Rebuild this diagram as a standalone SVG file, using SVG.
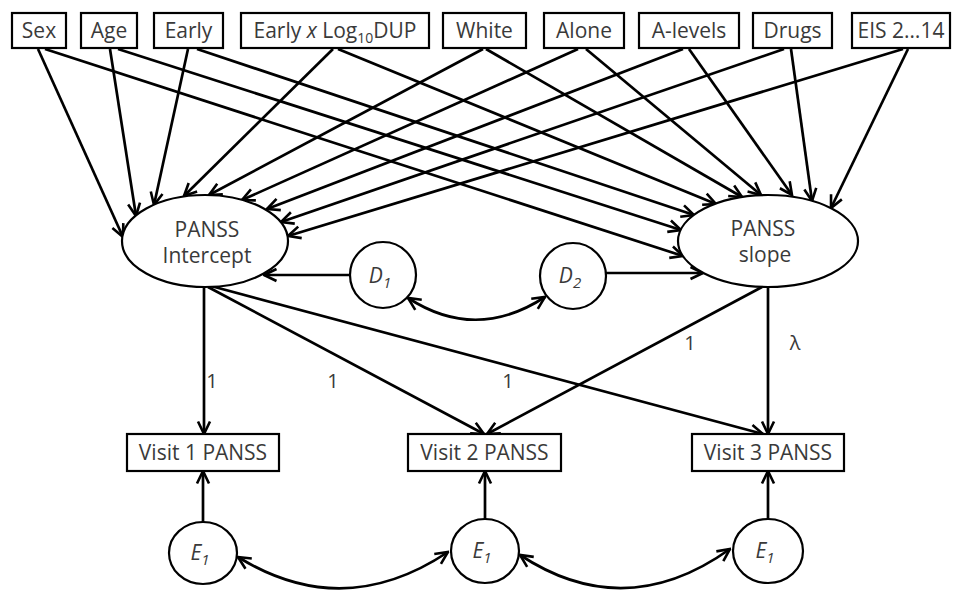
<svg xmlns="http://www.w3.org/2000/svg" width="956" height="590" viewBox="0 0 956 590">
<style>
  .box{fill:#fff;stroke:#000;stroke-width:2.2}
  .shape{fill:#fff;stroke:#000;stroke-width:2.2}
  .t{font-family:"Open Sans","Liberation Sans",sans-serif;font-size:21px;fill:#3a3a3a;text-anchor:middle}
  .it{font-style:italic}
  .c{fill:none;stroke:#000;stroke-width:2.7}
</style>
<defs>
  <marker id="ah" viewBox="0 0 16 16" refX="14.5" refY="8" markerWidth="16" markerHeight="16" markerUnits="userSpaceOnUse" orient="auto-start-reverse">
    <path d="M2,2 L14.5,8 L2,14" fill="none" stroke="#000" stroke-width="2.6"/>
  </marker>
</defs>
<rect width="956" height="590" fill="#fff"/>

<g id="connectors" class="c" marker-end="url(#ah)">
  <!-- to intercept -->
  <path d="M38,49 L123,237"/>
  <path d="M110,49 L136,216"/>
  <path d="M188,49 L154,205"/>
  <path d="M333,49 L184,196"/>
  <path d="M483,49 L209,195"/>
  <path d="M578,49 L242,200"/>
  <path d="M683,49 L267,209"/>
  <path d="M784,49 L281,222"/>
  <path d="M903,49 L288,236"/>
  <!-- to slope -->
  <path d="M45,49 L683,256"/>
  <path d="M118,49 L681,230"/>
  <path d="M197,49 L694,215"/>
  <path d="M338,49 L716,204"/>
  <path d="M486,49 L742,197"/>
  <path d="M586,49 L761,195"/>
  <path d="M689,49 L792,195"/>
  <path d="M791,49 L812,201"/>
  <path d="M908,49 L831,208"/>
  <!-- disturbances -->
  <path d="M350,275 L264,275"/>
  <path d="M606,273 L703,273"/>
  <path d="M408,298 Q476,342 545,297" marker-start="url(#ah)"/>
  <!-- loadings -->
  <path d="M204,287 L204,434"/>
  <path d="M208,287 L484,434"/>
  <path d="M211,286 L763,434"/>
  <path d="M762,287 L487,434"/>
  <path d="M768,287 L768,434"/>
  <!-- errors -->
  <path d="M203,522 L203,471"/>
  <path d="M485,519 L485,471"/>
  <path d="M768,519 L768,471"/>
  <path d="M238,557 Q343,622 448,552" marker-start="url(#ah)"/>
  <path d="M520,555 Q625,624 730,549" marker-start="url(#ah)"/>
</g>

<g id="labels">
  <text class="t" x="212" y="388" style="font-size:20px">1</text>
  <text class="t" x="333" y="388" style="font-size:20px">1</text>
  <text class="t" x="508" y="388" style="font-size:20px">1</text>
  <text class="t" x="690" y="350" style="font-size:20px">1</text>
  <text class="t" x="795" y="350" style="font-size:20px">λ</text>
</g>

<g id="sex"><rect class="box" x="12" y="13" width="54" height="35"/><text class="t" x="39" y="38">Sex</text></g>
<g id="age"><rect class="box" x="81" y="13" width="56" height="35"/><text class="t" x="109" y="38">Age</text></g>
<g id="early"><rect class="box" x="154" y="13" width="69" height="35"/><text class="t" x="188.5" y="38">Early</text></g>
<g id="earlyxlog"><rect class="box" x="241" y="13" width="188" height="35"/><text class="t" x="335" y="38">Early <tspan class="it">x</tspan> Log<tspan dy="5" style="font-size:14px">10</tspan><tspan dy="-5">DUP</tspan></text></g>
<g id="white"><rect class="box" x="443" y="13" width="83" height="35"/><text class="t" x="484.5" y="38">White</text></g>
<g id="alone"><rect class="box" x="544" y="13" width="80" height="35"/><text class="t" x="584" y="38">Alone</text></g>
<g id="alevels"><rect class="box" x="639" y="13" width="100" height="35"/><text class="t" x="689" y="38">A-levels</text></g>
<g id="drugs"><rect class="box" x="753" y="13" width="79" height="35"/><text class="t" x="792.5" y="38">Drugs</text></g>
<g id="eis"><rect class="box" x="852" y="13" width="98" height="35"/><text class="t" x="901" y="38">EIS 2…14</text></g>

<g id="intercept"><ellipse class="shape" cx="205" cy="241" rx="83" ry="46"/><text class="t" x="207" y="237">PANSS</text><text class="t" x="207" y="263">Intercept</text></g>
<g id="slope"><ellipse class="shape" cx="768" cy="241" rx="90" ry="46"/><text class="t" x="763" y="236">PANSS</text><text class="t" x="765" y="262">slope</text></g>

<g id="d1"><circle class="shape" cx="383" cy="275" r="33"/><text class="t it" x="380" y="283">D<tspan dy="5" style="font-size:15px">1</tspan></text></g>
<g id="d2"><circle class="shape" cx="573" cy="276" r="33"/><text class="t it" x="570" y="283">D<tspan dy="5" style="font-size:15px">2</tspan></text></g>

<g id="visit1"><rect class="box" x="127" y="434" width="152" height="37"/><text class="t" x="203" y="460">Visit 1 PANSS</text></g>
<g id="visit2"><rect class="box" x="408" y="434" width="153" height="37"/><text class="t" x="484.5" y="460">Visit 2 PANSS</text></g>
<g id="visit3"><rect class="box" x="692" y="434" width="152" height="37"/><text class="t" x="768" y="460">Visit 3 PANSS</text></g>

<g id="e1a"><ellipse class="shape" cx="203" cy="553" rx="34" ry="31"/><text class="t it" x="200" y="560">E<tspan dy="5" style="font-size:15px">1</tspan></text></g>
<g id="e1b"><ellipse class="shape" cx="485" cy="551" rx="34" ry="32"/><text class="t it" x="482" y="558">E<tspan dy="5" style="font-size:15px">1</tspan></text></g>
<g id="e1c"><ellipse class="shape" cx="768" cy="551" rx="35" ry="32"/><text class="t it" x="765" y="558">E<tspan dy="5" style="font-size:15px">1</tspan></text></g>
</svg>
